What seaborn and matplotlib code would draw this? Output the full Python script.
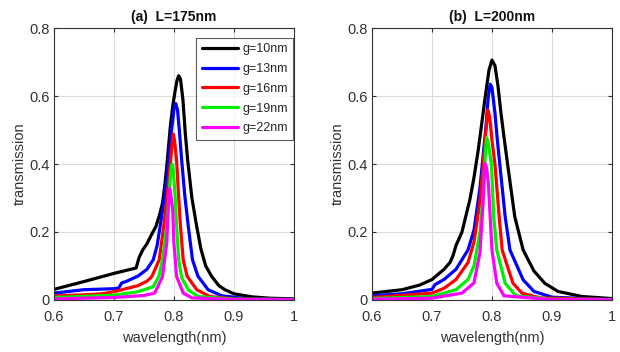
import numpy as np
import pandas as pd
import matplotlib
matplotlib.use("Agg")
import matplotlib.pyplot as plt
import seaborn as sns

# ---------------- data ----------------
labels = ["g=10nm", "g=13nm", "g=16nm", "g=19nm", "g=22nm"]
colors = ["#000000", "#0000ff", "#ff0000", "#00ee00", "#ff00ff"]

# Panel (a) L=175nm
a_g10_x = [0.60, 0.65, 0.70, 0.737, 0.742, 0.748, 0.755, 0.762, 0.770, 0.776, 0.781, 0.785, 0.789, 0.794, 0.798, 0.802, 0.805, 0.808, 0.811, 0.815, 0.819, 0.823, 0.830, 0.838, 0.845, 0.853, 0.863, 0.875, 0.885, 0.90, 0.93, 0.96, 1.00]
a_g10_y = [0.031, 0.054, 0.078, 0.094, 0.125, 0.147, 0.165, 0.19, 0.216, 0.25, 0.285, 0.34, 0.41, 0.51, 0.57, 0.615, 0.645, 0.66, 0.65, 0.59, 0.49, 0.41, 0.30, 0.216, 0.15, 0.10, 0.069, 0.042, 0.030, 0.018, 0.009, 0.005, 0.003]
a_g13_x = [0.60, 0.65, 0.70, 0.708, 0.713, 0.72, 0.74, 0.755, 0.7655, 0.772, 0.777, 0.785, 0.791, 0.796, 0.800, 0.803, 0.806, 0.809, 0.813, 0.818, 0.824, 0.831, 0.840, 0.857, 0.88, 0.92, 1.00]
a_g13_y = [0.020, 0.030, 0.033, 0.035, 0.050, 0.054, 0.070, 0.090, 0.118, 0.16, 0.216, 0.31, 0.41, 0.50, 0.56, 0.578, 0.56, 0.50, 0.41, 0.31, 0.216, 0.118, 0.07, 0.03, 0.012, 0.004, 0.001]
a_g16_x = [0.60, 0.65, 0.68, 0.70, 0.72, 0.74, 0.755, 0.763, 0.7755, 0.783, 0.789, 0.7945, 0.797, 0.799, 0.801, 0.8045, 0.808, 0.811, 0.8155, 0.822, 0.838, 0.86, 0.90, 1.00]
a_g16_y = [0.012, 0.015, 0.018, 0.024, 0.033, 0.042, 0.055, 0.068, 0.118, 0.216, 0.31, 0.41, 0.46, 0.488, 0.47, 0.41, 0.30, 0.216, 0.118, 0.07, 0.03, 0.01, 0.003, 0.001]
a_g19_x = [0.60, 0.70, 0.74, 0.7655, 0.775, 0.781, 0.788, 0.792, 0.795, 0.797, 0.799, 0.8017, 0.8045, 0.808, 0.813, 0.824, 0.84, 0.90, 1.00]
a_g19_y = [0.007, 0.014, 0.024, 0.039, 0.07, 0.118, 0.216, 0.314, 0.38, 0.40, 0.38, 0.314, 0.216, 0.118, 0.065, 0.03, 0.01, 0.002, 0.001]
a_g22_x = [0.60, 0.70, 0.75, 0.768, 0.781, 0.788, 0.7905, 0.793, 0.7955, 0.798, 0.800, 0.8045, 0.8155, 0.83, 0.90, 1.00]
a_g22_y = [0.003, 0.007, 0.013, 0.020, 0.069, 0.167, 0.265, 0.328, 0.30, 0.265, 0.167, 0.069, 0.02, 0.006, 0.001, 0.0005]

# Panel (b) L=200nm
b_g10_x = [0.60, 0.65, 0.68, 0.70, 0.72, 0.73, 0.735, 0.74, 0.75, 0.763, 0.77, 0.777, 0.783, 0.788, 0.795, 0.80, 0.805, 0.81, 0.815, 0.82, 0.826, 0.838, 0.852, 0.87, 0.888, 0.91, 0.95, 1.00]
b_g10_y = [0.020, 0.030, 0.044, 0.060, 0.090, 0.110, 0.130, 0.160, 0.20, 0.294, 0.36, 0.44, 0.52, 0.588, 0.676, 0.706, 0.69, 0.63, 0.55, 0.48, 0.40, 0.245, 0.147, 0.085, 0.049, 0.025, 0.010, 0.004]
b_g13_x = [0.60, 0.65, 0.70, 0.705, 0.72, 0.74, 0.76, 0.77, 0.78, 0.785, 0.79, 0.794, 0.797, 0.80, 0.805, 0.809, 0.813, 0.822, 0.83, 0.852, 0.87, 0.90, 1.00]
b_g13_y = [0.012, 0.018, 0.031, 0.045, 0.060, 0.090, 0.147, 0.205, 0.33, 0.42, 0.51, 0.60, 0.635, 0.625, 0.55, 0.47, 0.40, 0.245, 0.147, 0.059, 0.025, 0.008, 0.001]
b_g16_x = [0.60, 0.70, 0.72, 0.74, 0.76, 0.77, 0.78, 0.785, 0.79, 0.793, 0.796, 0.80, 0.805, 0.812, 0.817, 0.835, 0.85, 0.88, 1.00]
b_g16_y = [0.007, 0.020, 0.034, 0.060, 0.110, 0.170, 0.29, 0.39, 0.50, 0.559, 0.54, 0.47, 0.40, 0.245, 0.147, 0.049, 0.02, 0.006, 0.001]
b_g19_x = [0.60, 0.70, 0.74, 0.76, 0.77, 0.78, 0.785, 0.789, 0.791, 0.794, 0.799, 0.803, 0.808, 0.822, 0.84, 0.90, 1.00]
b_g19_y = [0.004, 0.010, 0.030, 0.060, 0.100, 0.20, 0.30, 0.43, 0.478, 0.46, 0.40, 0.245, 0.147, 0.049, 0.012, 0.002, 0.001]
b_g22_x = [0.60, 0.70, 0.75, 0.77, 0.78, 0.785, 0.788, 0.791, 0.794, 0.797, 0.80, 0.808, 0.82, 0.90, 1.00]
b_g22_y = [0.002, 0.005, 0.020, 0.050, 0.14, 0.28, 0.402, 0.39, 0.343, 0.245, 0.147, 0.049, 0.012, 0.001, 0.0005]

titles = ["(a)  L=175nm", "(b)  L=200nm"]
xticks = [0.6, 0.7, 0.8, 0.9, 1.0]
xticklabels = ["0.6", "0.7", "0.8", "0.9", "1"]
yticks = [0, 0.2, 0.4, 0.6, 0.8]
yticklabels = ["0", "0.2", "0.4", "0.6", "0.8"]


def make_df(xs, ys):
    frames = []
    for lab, x, y in zip(labels, xs, ys):
        frames.append(pd.DataFrame({"wavelength": x, "transmission": y, "g": lab}))
    return pd.concat(frames, ignore_index=True)


df_a = make_df([a_g10_x, a_g13_x, a_g16_x, a_g19_x, a_g22_x],
               [a_g10_y, a_g13_y, a_g16_y, a_g19_y, a_g22_y])
df_b = make_df([b_g10_x, b_g13_x, b_g16_x, b_g19_x, b_g22_x],
               [b_g10_y, b_g13_y, b_g16_y, b_g19_y, b_g22_y])

sns.set_theme(style="white")
plt.rcParams["font.family"] = ["Liberation Sans", "DejaVu Sans"]

fig = plt.figure(figsize=(6.2, 3.52), dpi=100)
ax_a = fig.add_axes([0.087, 0.148, 0.387, 0.772])
ax_b = fig.add_axes([0.600, 0.148, 0.387, 0.772])

palette = dict(zip(labels, colors))
for ax, df, title, show_leg in [(ax_a, df_a, titles[0], True), (ax_b, df_b, titles[1], False)]:
    sns.lineplot(data=df, x="wavelength", y="transmission", hue="g", hue_order=labels,
                 palette=palette, linewidth=2.3, ax=ax, legend=show_leg, sort=True)
    for ln in ax.get_lines():
        ln.set_solid_joinstyle("round")
        ln.set_solid_capstyle("round")
    ax.set_xlim(0.6, 1.0)
    ax.set_ylim(0, 0.8)
    ax.set_xticks(xticks)
    ax.set_xticklabels(xticklabels)
    ax.set_yticks(yticks)
    ax.set_yticklabels(yticklabels)
    ax.grid(True, color="#dcdcdc", linewidth=0.8)
    ax.set_axisbelow(True)
    for s in ax.spines.values():
        s.set_color("#333333")
        s.set_linewidth(0.8)
    ax.tick_params(direction="in", length=3, width=0.8, colors="#333333",
                   labelsize=10.5, top=True, right=True, bottom=True, left=True)
    ax.tick_params(axis="x", pad=7)
    ax.tick_params(axis="y", pad=3)
    ax.set_xlabel("wavelength(nm)", fontsize=10.5, color="#333333", labelpad=5)
    ax.set_ylabel("transmission", fontsize=10.5, color="#333333", labelpad=2)
    ax.set_title(title, fontsize=10, fontweight="bold", color="#111111", pad=5)

leg = ax_a.legend(loc="upper right", bbox_to_anchor=(0.997, 0.965), frameon=True,
                  fontsize=9, handlelength=2.9, borderpad=0.45, labelspacing=0.62,
                  handletextpad=0.3, borderaxespad=0.0, fancybox=False)
leg.get_frame().set_edgecolor("#333333")
leg.get_frame().set_linewidth(0.8)
for line in leg.get_lines():
    line.set_linewidth(2.3)

fig.savefig("out.png", dpi=100)
